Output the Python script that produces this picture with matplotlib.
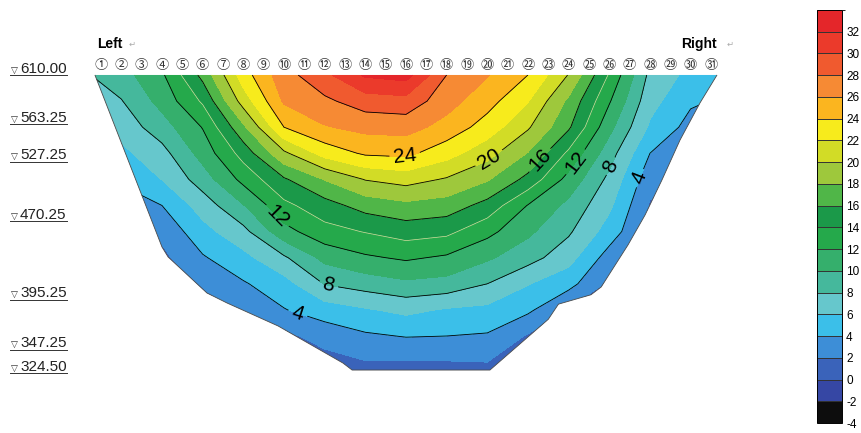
import numpy as np
import matplotlib.pyplot as plt
from matplotlib.path import Path
from matplotlib.patches import PathPatch
from matplotlib.colors import ListedColormap, BoundaryNorm

plt.rcParams['font.family'] = ['Liberation Sans', 'DejaVu Sans']
plt.rcParams['axes.unicode_minus'] = False

# 断面号 / 高程 网格
sections = np.arange(0, 33, 2)
elev = np.array([610, 585, 560, 535, 510, 485, 460, 435, 410, 385, 360, 335, 320])

# 温度 (行: 高程自上而下, 列: 断面号)
temp = np.array([
    [7.6, 9.2, 11.7, 16.6, 23.1, 27.2, 29.5, 32.3, 32.8, 28.0, 26.1, 24.0, 19.9, 13.8, 7.5, 5.4, 4.2],
    [6.8, 7.9, 10.7, 14.3, 20.9, 26.3, 27.6, 29.0, 29.3, 26.8, 24.8, 22.1, 17.6, 12.2, 6.7, 4.3, 3.6],
    [5.8, 6.8, 9.1, 12.1, 17.6, 24.0, 25.85, 26.6, 26.75, 25.3, 23.1, 20.25, 16.3, 10.6, 5.7, 3.3, 2.8],
    [4.8, 5.5, 7.3, 10.8, 14.8, 19.6, 22.8, 24.3, 24.5, 22.8, 20.75, 17.9, 13.6, 8.9, 4.0, 2.5, 2.2],
    [3.8, 4.3, 6.05, 9.0, 12.6, 15.75, 18.1, 20.1, 20.8, 19.8, 18.2, 15.4, 11.3, 7.5, 2.75, 2.0, 1.8],
    [2.8, 3.0, 4.0, 6.9, 9.9, 13.5, 15.2, 16.8, 17.5, 17.1, 15.3, 11.9, 9.5, 6.4, 1.8, 1.6, 1.5],
    [2.0, 2.0, 2.5, 5.3, 7.4, 11.3, 13.3, 14.1, 14.9, 14.5, 12.6, 10.4, 8.3, 5.1, 1.5, 1.4, 1.4],
    [1.5, 1.5, 1.5, 3.8, 5.4, 7.7, 10.6, 11.7, 12.3, 11.7, 10.3, 8.8, 6.75, 3.1, 1.3, 1.3, 1.3],
    [1.3, 1.3, 1.3, 2.1, 3.8, 5.2, 8.1, 8.9, 9.6, 9.3, 8.0, 6.1, 4.7, 1.6, 1.2, 1.2, 1.2],
    [1.2, 1.2, 1.2, 1.6, 2.2, 3.9, 5.0, 5.8, 6.5, 5.8, 5.5, 4.4, 1.8, 1.5, 1.2, 1.2, 1.2],
    [1.2, 1.2, 1.2, 1.3, 1.5, 1.5, 2.8, 3.7, 4.1, 4.0, 3.8, 1.8, 1.5, 1.3, 1.2, 1.2, 1.1],
    [1.1, 1.1, 1.1, 1.2, 1.2, 1.2, 1.2, 1.9, 1.9, 1.9, 2.0, 1.2, 1.2, 1.2, 1.1, 1.1, 1.1],
    [1.0, 1.0, 1.0, 1.0, 1.0, 1.0, 1.0, 1.0, 1.0, 1.0, 1.0, 1.0, 1.0, 1.0, 1.0, 1.0, 1.0],
])

# 河谷轮廓 (断面号, 高程)
bank_sec = [0.70, 2.77, 4.00, 4.30, 6.21, 7.20, 9.71, 12.90, 13.35, 20.13, 23.00,
            23.50, 25.10, 25.60, 26.92, 27.76, 28.59, 29.48, 30.46, 31.30]
bank_elev = [610.0, 506.6, 445.2, 435.7, 401.2, 391.6, 369.6, 334.1, 327.4, 327.4, 376.0,
             390.5, 399.5, 406.9, 447.2, 475.9, 509.4, 547.7, 583.2, 610.0]

elev_marks = [610.00, 563.25, 527.25, 470.25, 395.25, 347.25, 324.50]
n_sections = 31

levels = np.arange(-4, 35, 2)
colors = ['#0d0d0d', '#3647a4', '#3a63ba', '#3d8ed7', '#3bbfe9', '#66c7cc', '#45b89c',
          '#35af6c', '#25a94b', '#1b9949', '#50b648', '#9ec83c', '#d2dc26', '#f7eb1c',
          '#fbb51f', '#f68a34', '#f05a2f', '#eb3a2b', '#e4262a']
line_levels = [4, 8, 12, 16, 20, 24, 28]

# 等值线标注位置
lab_sec = [15.95, 20.13, 22.74, 24.41, 25.94, 27.37, 9.31, 12.17, 10.64]
lab_elev = [531.5, 528.6, 525.7, 525.7, 523.8, 512.3, 468.2, 406.9, 379.2]

cmap = ListedColormap(colors)
norm = BoundaryNorm(levels, cmap.N)

fig = plt.figure(figsize=(8.62, 4.33), dpi=100)
ax = fig.add_axes([0, 0, 800 / 862, 1])
ax.set_xlim(-3.968, 35.38)
ax.set_ylim(267.1, 681.8)
ax.axis('off')

z = temp[::-1]
e = elev[::-1]

outline = PathPatch(Path(np.column_stack([bank_sec, bank_elev]), closed=False),
                    transform=ax.transData, facecolor='none', edgecolor='#4a4a4a', lw=0.6, zorder=5)
ax.add_patch(outline)

cs = ax.contourf(sections, e, z, levels=levels, cmap=cmap, norm=norm)
cs.set_clip_path(outline)

cl = ax.contour(sections, e, z, levels=line_levels, colors='k', linewidths=0.6)
cl.set_clip_path(outline)
cl2 = ax.contour(sections, e, z, levels=[14], colors='#d9e3a0', linewidths=0.5)
cl2.set_clip_path(outline)

ax.clabel(cl, fmt='%d', fontsize=15, inline=True, inline_spacing=4,
          manual=list(zip(lab_sec, lab_elev)))

# 断面编号
for i in range(1, n_sections + 1):
    ch = chr(0x2460 + i - 1) if i <= 20 else chr(0x3251 + i - 21)
    ax.text(i, 618.6, ch, ha='center', va='center', fontsize=9.5, color='#333333',
            family=['Noto Sans CJK SC', 'DejaVu Sans'])

ax.text(0.80, 639.7, 'Left', fontsize=10, fontweight='bold', va='center', ha='left')
ax.text(2.35, 639.0, '\u21b5', fontsize=6, color='#aaaaaa', va='center', family=['DejaVu Sans'])
ax.text(29.53, 639.7, 'Right', fontsize=10, fontweight='bold', va='center', ha='left')
ax.text(31.75, 639.0, '\u21b5', fontsize=6, color='#aaaaaa', va='center', family=['DejaVu Sans'])

# 高程标注
texts = []
for m in elev_marks:
    ax.text(-3.43, m + 1.2, '\u25bd', fontsize=6.5, ha='left', va='baseline',
            family=['DejaVu Sans'], color='#333333')
    t = ax.text(-2.98, m + 1.9, '%.2f' % m, fontsize=11, ha='left', va='baseline', color='#222222')
    texts.append((t, m))

fig.canvas.draw()
r = fig.canvas.get_renderer()
for t, m in texts:
    bb = t.get_window_extent(r).transformed(ax.transData.inverted())
    ax.plot([-3.46, bb.x1], [m - 0.3, m - 0.3], color='#333333', lw=0.7)

# 色标
cax = fig.add_axes([817 / 862, 10 / 433, 25 / 862, 413 / 433])
cb = fig.colorbar(cs, cax=cax, ticks=np.arange(-4, 33, 2), drawedges=True)
cb.dividers.set_color('#333333')
cb.dividers.set_linewidth(0.7)
cb.outline.set_linewidth(0.7)
cb.ax.tick_params(length=0, pad=3, labelsize=8.5)

fig.savefig('out.png', dpi=100)
